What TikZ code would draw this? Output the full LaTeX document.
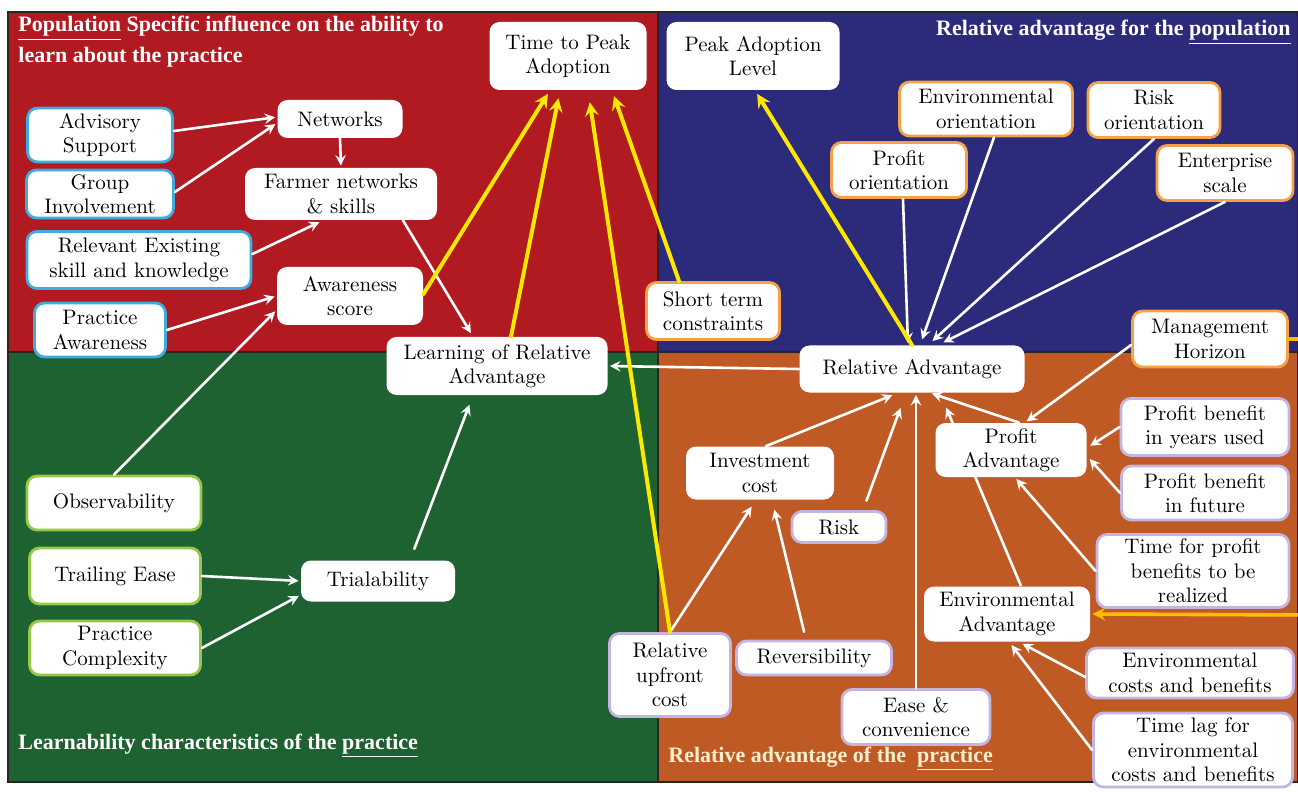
\documentclass[tikz,border=0pt]{standalone}
\usepackage{fontspec}
\newfontfamily\titlefont{Liberation Serif}
\pgfdeclarelayer{bg}
\pgfdeclarelayer{mid}
\pgfsetlayers{bg,mid,main}

\definecolor{qred}{RGB}{176,26,32}
\definecolor{qblue}{RGB}{44,42,122}
\definecolor{qgreen}{RGB}{30,98,50}
\definecolor{qorange}{RGB}{192,90,36}
\definecolor{edgeblue}{RGB}{62,172,222}
\definecolor{edgegreen}{RGB}{150,200,70}
\definecolor{edgeorange}{RGB}{246,160,72}
\definecolor{edgepurple}{RGB}{196,180,226}
\definecolor{arrowyellow}{RGB}{255,232,0}
\definecolor{arrowamber}{RGB}{255,190,0}
\definecolor{cream}{RGB}{255,240,205}

\tikzset{
  plainbox/.style={rectangle, rounded corners=5pt, fill=white, text=black,
                   align=center, inner sep=1pt,
                   font=\fontsize{10.5}{12.2}\selectfont},
  dims/.style 2 args={minimum width=#1*0.5pt, minimum height=#2*0.5pt},
  bluebox/.style={plainbox, draw=edgeblue, line width=1.4pt},
  greenbox/.style={plainbox, draw=edgegreen, line width=1.4pt},
  orangebox/.style={plainbox, draw=edgeorange, line width=1.4pt},
  purplebox/.style={plainbox, draw=edgepurple, line width=1.4pt},
  wire/.style={->, white, line width=1.3pt, shorten >=1pt},
  gold/.style={->, arrowyellow, line width=2pt, shorten >=2pt},
  amberwire/.style={->, arrowamber, line width=1.8pt, shorten >=1pt},
  quadtitle/.style={text=white, font=\titlefont\fontsize{11}{12.6}\selectfont\bfseries,
                    align=left, inner sep=0pt}
}

\begin{document}
\begin{tikzpicture}[x=0.5pt, y=-0.5pt, >=stealth, line cap=round]
\useasboundingbox (0,0) rectangle (1298,792);

\begin{pgfonlayer}{bg}
  \fill[white] (0,0) rectangle (1298,792);
  \foreach \xa/\ya/\xb/\yb/\col in {8/12/658/352/qred, 658/12/1298/352/qblue,
                                    8/352/658/782/qgreen, 658/352/1298/782/qorange}
    \fill[\col] (\xa,\ya) rectangle (\xb,\yb);
  \draw[line width=1pt, black!85] (8,12) rectangle (1298,782)
       (658,12) -- (658,782) (8,352) -- (1298,352);
\end{pgfonlayer}

% quadrant titles
\node[quadtitle, anchor=north west] (tpop) at (18,16)
  {\underline{Population} Specific influence on the ability to\\[2.5pt]learn about the practice};
\node[quadtitle, anchor=north east] (tpopadv) at (1291,20)
  {Relative advantage for the \underline{population}};
\node[quadtitle, anchor=west] (tlearn) at (18,746)
  {Learnability characteristics of the \underline{practice}};
\node[quadtitle, text=cream, anchor=west] (tprac) at (668,759)
  {Relative advantage of the\ \ \underline{practice}};

% population: learning
\node[bluebox, dims={145}{54}] (adv) at (100,135) {Advisory\\Support};
\node[bluebox, dims={147}{48}] (grp) at (100,194) {Group\\Involvement};
\node[bluebox, dims={224}{57}] (rel) at (139,260) {Relevant Existing\\skill and knowledge};
\node[bluebox, dims={131}{54}] (pra) at (100,330) {Practice\\Awareness};
\node[plainbox, dims={125}{38}] (net) at (340,119) {Networks};
\node[plainbox, dims={192}{52}] (farm) at (341,194) {Farmer networks\\\& skills};
\node[plainbox, dims={146}{58}] (aw) at (350,296) {Awareness\\score};
\node[plainbox, dims={157}{68}] (ttp) at (568,56) {Time to Peak\\Adoption};
\node[plainbox, dims={221}{58}] (learn) at (497,366) {Learning of Relative\\Advantage};

% population: advantage
\node[plainbox, dims={173}{68}] (pal) at (753,56) {Peak Adoption\\Level};
\node[orangebox, dims={133}{57}] (st) at (713,311) {Short term\\constraints};
\node[orangebox, dims={173}{54}] (eo) at (986,109) {Environmental\\orientation};
\node[orangebox, dims={132}{55}] (ro) at (1154,110) {Risk\\orientation};
\node[orangebox, dims={135}{55}] (po) at (899,170) {Profit\\orientation};
\node[orangebox, dims={136}{55}] (es) at (1225,173) {Enterprise\\scale};
\node[orangebox, dims={155}{56}] (mh) at (1210,339) {Management\\Horizon};

% practice: advantage
\node[plainbox, dims={225}{47}] (ra) at (912,369) {Relative Advantage};
\node[plainbox, dims={151}{54}] (pa) at (1011,450) {Profit\\Advantage};
\node[purplebox, dims={168}{57}] (pby) at (1205,427) {Profit benefit\\in years used};
\node[purplebox, dims={167}{54}] (pbf) at (1205,493) {Profit benefit\\in future};
\node[purplebox, dims={192}{73}] (tfp) at (1193,571) {Time for profit\\benefits to be\\realized};
\node[plainbox, dims={166}{55}] (ea) at (1007,614) {Environmental\\Advantage};
\node[purplebox, dims={207}{50}] (ecb) at (1190,673) {Environmental\\costs and benefits};
\node[purplebox, dims={199}{74}] (tl) at (1193,750) {Time lag for\\environmental\\costs and benefits};
\node[plainbox, dims={148}{53}] (inv) at (760,473) {Investment\\cost};
\node[purplebox, dims={94}{31}] (risk) at (839,527) {Risk};
\node[purplebox, dims={155}{34}] (rev) at (814,658) {Reversibility};
\node[purplebox, dims={121}{83}] (up) at (670,675) {Relative\\upfront\\cost};
\node[purplebox, dims={148}{55}] (ease) at (916,717) {Ease \&\\convenience};

% practice: learning
\node[greenbox, dims={174}{54}] (obs) at (114,503) {Observability};
\node[greenbox, dims={171}{56}] (te) at (115,576) {Trailing Ease};
\node[greenbox, dims={171}{54}] (pc) at (115,648) {Practice\\Complexity};
\node[plainbox, dims={154}{41}] (tri) at (378,581) {Trialability};

% white links
\draw[wire] ([yshift=2pt]adv.east) -- ([yshift=1pt]net.west);
\draw[wire] ([yshift=1pt]grp.east) -- ([yshift=-2pt]net.west);
\draw[wire] (net.south) -- (farm.north);
\draw[wire, shorten >=2pt] ([yshift=3pt]rel.east) -- ([xshift=-9pt]farm.south);
\draw[wire] (pra.east) -- (aw.west);
\draw[wire] (obs.north) -- ([yshift=-7pt]aw.west);
\draw[wire, shorten >=2pt] ([xshift=31pt]farm.south) -- ([xshift=-12pt]learn.north);
\draw[wire, shorten <=6pt, shorten >=5pt] ([xshift=16pt]tri.north) -- ([xshift=-12pt]learn.south);
\draw[wire] (te.east) -- (tri.west);
\draw[wire] (pc.east) -- ([yshift=-7pt]tri.west);
\draw[wire] (ra.west) -- (learn.east);

\draw[wire] ([xshift=2pt]po.south) -- ([xshift=-2pt]ra.north);
\draw[wire, shorten >=3pt] ([xshift=4pt]eo.south) -- ([xshift=4pt]ra.north);
\draw[wire, shorten >=3pt] (ro.south) -- ([xshift=8pt]ra.north);
\draw[wire, shorten >=3pt] (es.south) -- ([xshift=13pt]ra.north);

\draw[wire, shorten >=3pt] ([xshift=3pt]inv.north) -- ([xshift=-7pt]ra.south);
\draw[wire, shorten <=5pt, shorten >=8pt] ([xshift=12pt]risk.north) -- ([xshift=-3pt]ra.south);
\draw[wire] (ease.north) -- ([xshift=2pt]ra.south);
\draw[wire] ([xshift=4pt]pa.north) -- ([xshift=9pt]ra.south);
\begin{pgfonlayer}{mid}
  \draw[wire, shorten >=8pt] ([xshift=7pt]ea.north) -- ([xshift=14pt]ra.south);
\end{pgfonlayer}
\draw[wire] ([yshift=-3pt]mh.west) -- ([xshift=7pt]pa.north);
\draw[wire, shorten >=2pt] (pby.west) -- ([yshift=1pt]pa.east);
\draw[wire, shorten >=2pt] (pbf.west) -- ([yshift=-3pt]pa.east);
\draw[wire] (tfp.west) -- ([xshift=2pt]pa.south);
\draw[wire, shorten >=2pt] ([yshift=-2pt]ecb.west) -- ([xshift=6pt]ea.south);
\draw[wire, shorten >=2pt] (tl.west) -- ([xshift=1pt]ea.south);
\draw[wire, shorten >=4pt] (up.north) -- ([xshift=-2pt]inv.south);
\draw[wire, shorten <=4pt, shorten >=5pt] ([xshift=-4pt]rev.north) -- ([xshift=6pt]inv.south);

% yellow links
\draw[gold] ([yshift=1pt]aw.east) -- ([xshift=-9pt]ttp.south);
\draw[gold, shorten >=4pt] ([xshift=7pt]learn.north) -- ([xshift=-4pt]ttp.south);
\draw[gold, shorten >=6pt] (up.north) -- ([xshift=10pt]ttp.south);
\draw[gold, shorten >=3pt] ([xshift=-17pt]st.north) -- ([xshift=22pt]ttp.south);
\draw[gold] (ra.north) -- ([xshift=1pt]pal.south);

\coordinate (edgeN) at (1312,339);
\coordinate (edgeS) at (1312,615);
\draw[amberwire] (mh.east) -- (edgeN) -- (edgeS) -- (ea.east);
\end{tikzpicture}
\end{document}
